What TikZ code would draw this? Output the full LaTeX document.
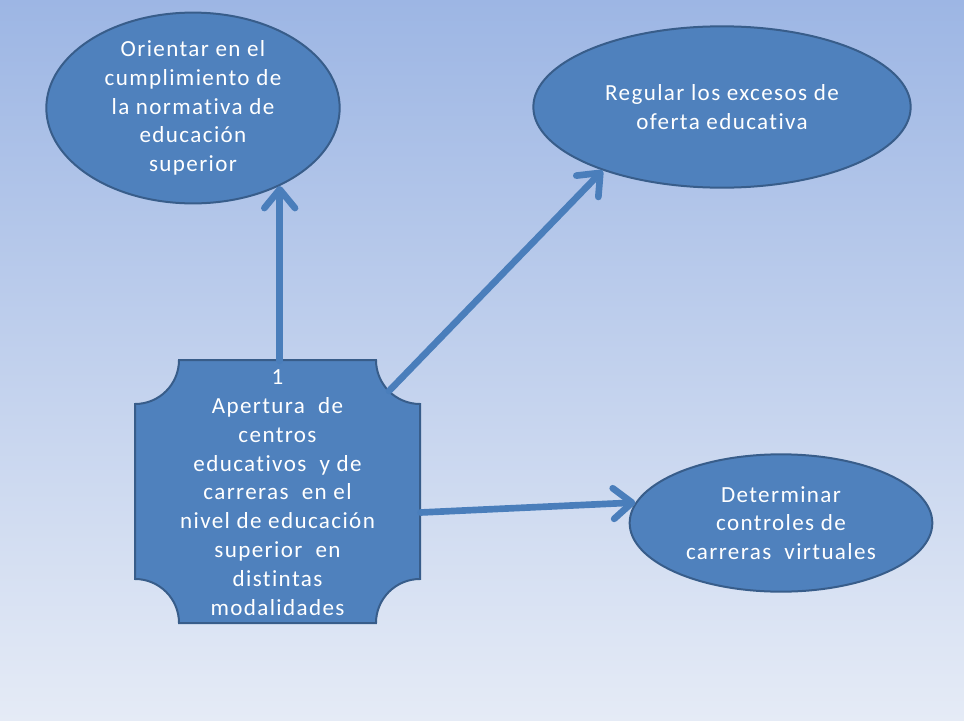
\documentclass[tikz,border=0pt]{standalone}
\usepackage{fontspec}
\setmainfont{Carlito}[LetterSpace=6, Ligatures=NoCommon]
\usetikzlibrary{shapes.geometric,arrows.meta,backgrounds}

\definecolor{azulfondo}{RGB}{79,129,189}
\definecolor{azulborde}{RGB}{56,93,138}
\definecolor{azulflecha}{RGB}{74,126,187}
\definecolor{cielo}{RGB}{157,182,228}
\definecolor{bruma}{RGB}{229,235,246}

\tikzstyle{elipse} = [ellipse, draw=azulborde, line width=1.5pt, fill=azulfondo,
text=white, align=center, inner sep=0pt, font=\fontsize{17.3}{21.6}\selectfont]
\tikzstyle{placa} = [rectangle, text=white, align=center, inner sep=0pt,
minimum width=214pt, minimum height=197pt, font=\fontsize{17.3}{21.6}\selectfont]
\tikzstyle{linea} = [draw=azulflecha, line width=5pt, line cap=round,
-{Straight Barb[round, length=14pt, width=23pt]}]

\begin{document}
\begin{tikzpicture}[x=0.75pt, y=-0.75pt]
		\node [elipse, minimum width=220pt, minimum height=142pt] (orientar) at (193,108)
			{Orientar en el\\cumplimiento de\\la normativa de\\educación\\superior};
		\node [elipse, minimum width=283pt, minimum height=121pt] (regular) at (722,107)
			{Regular los excesos de\\oferta educativa};
		\node [elipse, minimum width=227pt, minimum height=103pt] (determinar) at (781,523)
			{Determinar\\controles de\\carreras\ \ virtuales};
		\node [placa] (apertura) at (277.5,492.5)
			{1\\Apertura\ \ de\\centros\\educativos\ \ y de\\carreras\ \ en el\\nivel de educación\\superior\ \ en\\distintas\\modalidades};
		\coordinate (esquina) at (389,391);

		\begin{scope}[on background layer]
			\fill [top color=cielo, bottom color=bruma] (0,0) rectangle (964,721);
			% borde de la placa con esquinas concavas
			\filldraw [fill=azulfondo, draw=azulborde, line width=1.5pt]
				(179,360) -- (376,360) arc [start angle=180, end angle=90, radius=44]
				-- (420,579) arc [start angle=270, end angle=180, radius=44]
				-- (179,623) arc [start angle=0, end angle=-90, radius=44]
				-- (135,404) arc [start angle=90, end angle=0, radius=44] -- cycle;
		\end{scope}

		\path [linea] (orientar.-42 |- apertura.north) -- (orientar.-42);
		\path [linea] (esquina) -- (regular.-152);
		\path [linea] ([yshift=-15pt]apertura.east) -- (determinar.172);
\end{tikzpicture}
\end{document}
